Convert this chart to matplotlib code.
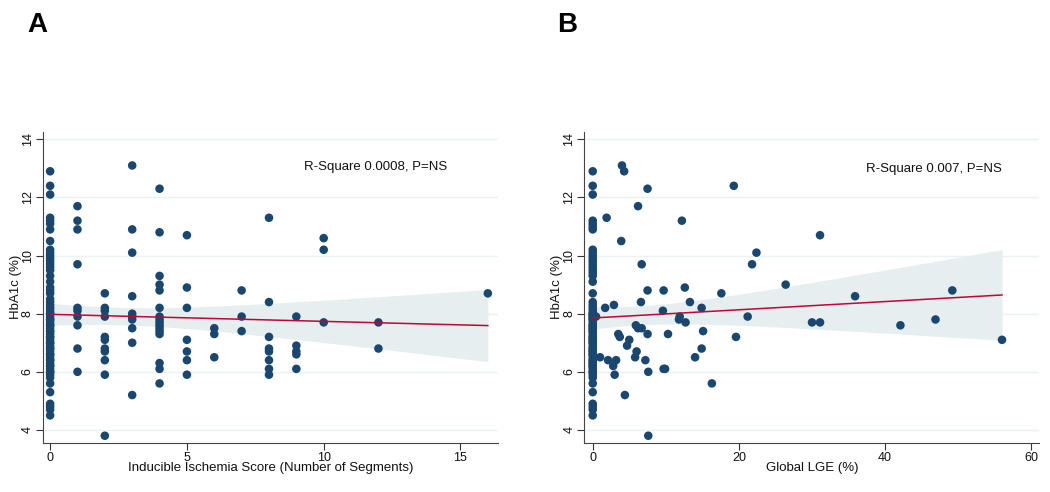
import numpy as np
import matplotlib
matplotlib.use("Agg")
import matplotlib.pyplot as plt

plt.rcParams["font.family"] = ["Liberation Sans", "DejaVu Sans"]

# ---------------- data ----------------
# Panel A: Inducible ischemia score vs HbA1c
ischemia_zero_hba1c = [12.9, 12.4, 12.1, 11.3, 11.2, 11.1, 10.9, 10.5, 10.2, 10.1, 10.0,
                       9.9, 9.8, 9.7, 9.6, 9.5, 9.3, 9.1, 8.9, 8.8, 8.7, 8.5, 8.4, 8.3,
                       8.2, 8.1, 8.0, 7.9, 7.8, 7.7, 7.6, 7.5, 7.4, 7.3, 7.2, 7.1, 7.0,
                       6.9, 6.8, 6.7, 6.6, 6.5, 6.4, 6.3, 6.2, 6.1, 6.0, 5.9, 5.8, 5.6,
                       5.3, 4.9, 4.8, 4.7, 4.5,
                       8.0, 7.8, 7.6, 7.4, 7.2, 7.0, 6.8, 6.6, 6.4, 6.2, 6.0]
ischemia_scores = [1] * 10 + [2] * 11 + [3] * 10 + [4] * 16 + [5] * 7 + [6] * 3 + [7] * 3 \
    + [8] * 8 + [9] * 5 + [10] * 3 + [12] * 2 + [16]
ischemia_hba1c = [11.7, 11.2, 10.9, 9.7, 8.2, 8.1, 7.9, 7.6, 6.8, 6.0,
                  8.7, 8.2, 8.1, 7.9, 7.2, 7.1, 6.8, 6.7, 6.4, 5.9, 3.8,
                  13.1, 10.9, 10.1, 8.6, 8.0, 7.9, 7.8, 7.5, 7.0, 5.2,
                  12.3, 10.8, 9.3, 9.0, 8.8, 8.2, 7.9, 7.8, 7.7, 7.6, 7.5, 7.4, 7.3, 6.3, 6.1, 5.6,
                  10.7, 8.9, 8.2, 7.1, 6.7, 6.4, 5.9,
                  7.5, 7.3, 6.5,
                  8.8, 7.9, 7.4,
                  11.3, 8.4, 7.2, 6.8, 6.7, 6.4, 6.1, 5.9,
                  7.9, 6.9, 6.7, 6.6, 6.1,
                  10.6, 10.2, 7.7,
                  7.7, 6.8,
                  8.7]

# Panel B: Global LGE (%) vs HbA1c
lge_zero_hba1c = [12.9, 12.4, 12.1, 11.2, 11.1, 11.0, 10.9, 10.2, 10.1, 10.0, 9.9, 9.8,
                  9.7, 9.6, 9.5, 9.4, 9.3, 9.1, 8.7, 8.4, 8.3, 8.2, 8.1, 8.0, 7.9, 7.8,
                  7.7, 7.6, 7.5, 7.4, 7.3, 7.2, 7.1, 7.0, 6.9, 6.8, 6.7, 6.6, 6.5, 6.4,
                  6.3, 6.2, 6.1, 6.0, 5.9, 5.8, 5.6, 5.3, 4.9, 4.8, 4.7, 4.5,
                  8.0, 7.8, 7.6, 7.4, 7.2, 7.0, 6.8, 6.6, 6.4, 6.2, 6.0,
                  7.9, 7.5, 7.1, 6.7, 6.3]
lge_pct = [0.45, 1.0, 1.7, 1.9, 2.1, 2.8, 2.9, 3.0, 3.2, 3.5, 3.7, 3.9, 4.0, 4.3, 4.4,
           4.7, 5.0, 5.8, 5.9, 6.0, 6.2, 6.2, 6.6, 6.7, 6.7, 7.2, 7.5, 7.5, 7.5, 7.6,
           7.6, 9.6, 9.7, 9.7, 9.9, 10.3, 11.8, 11.9, 12.2, 12.7, 12.6, 13.3, 14.0,
           14.9, 14.9, 15.1, 16.3, 17.6, 19.3, 19.6, 21.2, 21.8, 22.4, 26.4, 30.0,
           31.1, 31.1, 35.9, 42.1, 46.9, 49.2, 56.0]
lge_hba1c = [7.9, 6.5, 8.2, 11.3, 6.4, 6.2, 8.3, 5.9, 6.4, 7.3, 7.2, 10.5, 13.1, 12.9, 5.2,
             6.9, 7.1, 6.5, 7.6, 6.7, 7.5, 11.7, 8.4, 7.5, 9.7, 6.4, 12.3, 8.8, 7.3, 6.0,
             3.8, 8.1, 8.8, 6.1, 6.1, 7.3, 7.8, 7.9, 11.2, 7.7, 8.9, 8.4, 6.5,
             8.2, 6.8, 7.4, 5.6, 8.7, 12.4, 7.2, 7.9, 9.7, 10.1, 9.0, 7.7,
             7.7, 10.7, 8.6, 7.6, 7.8, 8.8, 7.1]

panels = [
    dict(letter="A", zero_y=ischemia_zero_hba1c, xs=ischemia_scores, ys=ischemia_hba1c,
         xlabel="Inducible Ischemia Score (Number of Segments)",
         xticks=[0, 5, 10, 15], xlim=(-0.27, 16.36),
         note="R-Square 0.0008, P=NS", note_xy=(0.732, 0.887)),
    dict(letter="B", zero_y=lge_zero_hba1c, xs=lge_pct, ys=lge_hba1c,
         xlabel="Global LGE (%)",
         xticks=[0, 20, 40, 60], xlim=(-1.15, 61.1),
         note="R-Square 0.007, P=NS", note_xy=(0.769, 0.880)),
]
yticks = [4, 6, 8, 10, 12, 14]

# ---------------- style ----------------
navy = "#1a476f"
red = "#c10534"
band = "#e6eef0"
grid = "#eaf2f3"

fig = plt.figure(figsize=(10.5, 4.92), dpi=100)
lefts = [0.0407, 0.5565]
for p, left in zip(panels, lefts):
    ax = fig.add_axes([left, 0.1002, 0.4333, 0.632])
    x = np.array([0.0] * len(p["zero_y"]) + list(p["xs"]))
    y = np.array(list(p["zero_y"]) + list(p["ys"]))

    # linear fit with 95% CI of the mean prediction
    n = len(x)
    slope, intercept = np.polyfit(x, y, 1)
    resid = y - (intercept + slope * x)
    s = np.sqrt(np.sum(resid ** 2) / (n - 2))
    xbar = x.mean()
    sxx = np.sum((x - xbar) ** 2)
    xf = np.linspace(x.min(), x.max(), 200)
    yf = intercept + slope * xf
    se = s * np.sqrt(1.0 / n + (xf - xbar) ** 2 / sxx)
    ax.fill_between(xf, yf - 1.97 * se, yf + 1.97 * se, color=band, lw=0, zorder=1)

    for yt in yticks:
        ax.axhline(yt, color=grid, lw=1.0, zorder=0)

    ax.scatter(x, y, s=38, color=navy, edgecolors="none", zorder=3)
    ax.plot(xf, yf, color=red, lw=1.1, zorder=4)

    ax.set_xlim(*p["xlim"])
    ax.set_ylim(3.56, 14.26)
    ax.set_xticks(p["xticks"])
    ax.set_yticks(yticks)
    ax.set_yticklabels([str(t) for t in yticks], rotation=90, va="center")
    ax.tick_params(axis="both", labelsize=9, length=5, width=0.8, color="#333333",
                   labelcolor="#111111", pad=1.5)
    for side in ["top", "right"]:
        ax.spines[side].set_visible(False)
    for side in ["left", "bottom"]:
        ax.spines[side].set_color("#444444")
        ax.spines[side].set_linewidth(0.8)
    ax.set_xlabel(p["xlabel"], fontsize=9.5, color="#111111")
    ax.set_ylabel("HbA1c (%)", fontsize=9.5, color="#111111")
    ax.xaxis.set_label_coords(0.5, -0.062)
    ax.yaxis.set_label_coords(-0.046, 0.5)
    ax.text(p["note_xy"][0], p["note_xy"][1], p["note"], transform=ax.transAxes,
            fontsize=9.5, ha="center", va="center", color="#111111")

fig.text(37 / 1050, 1 - 25 / 492, "A", fontsize=20, fontweight="bold",
         ha="center", va="center")
fig.text(567 / 1050, 1 - 25 / 492, "B", fontsize=20, fontweight="bold",
         ha="center", va="center")

fig.savefig("out.png", dpi=100, facecolor="white")
